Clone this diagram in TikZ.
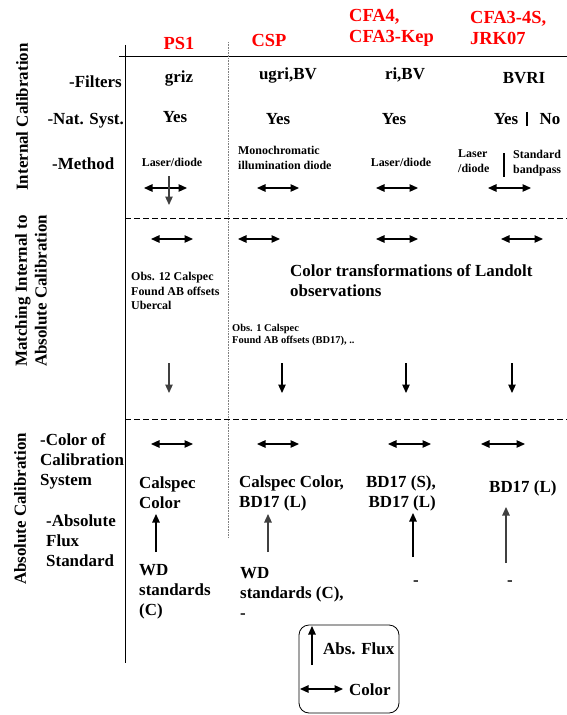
\documentclass[tikz,border=0pt]{standalone}
\usepackage{fontspec}
\setmainfont{Liberation Serif}
\usetikzlibrary{arrows.meta,calc}

\tikzset{
	hdr/.style={text=red,font=\fontsize{18.5}{21}\selectfont\bfseries,align=left,inner sep=0pt},
	big/.style={font=\fontsize{17}{20}\selectfont\bfseries,align=left,inner sep=0pt},
	small/.style={font=\fontsize{12}{14.5}\selectfont\bfseries,align=left,inner sep=0pt},
	tiny/.style={font=\fontsize{10.5}{12}\selectfont\bfseries,align=left,inner sep=0pt},
	dbl/.style={{Triangle[length=8.5bp,width=7.5bp]}-{Triangle[length=8.5bp,width=7.5bp]},line width=1.2bp},
	sgl/.style={-{Triangle[length=8.5bp,width=7.5bp]},line width=1.2bp},
	sep/.style={dash pattern=on 6bp off 3bp,line width=0.8bp},
}

\begin{document}
\begin{tikzpicture}[x=1bp,y=-1bp]
			          \useasboundingbox (0,0) rectangle (567,715);
			          %table frame
			          \coordinate (vtop) at (125,45);
			          \coordinate (vbot) at (125,663);
			          \coordinate (hl) at (119,57);
			          \coordinate (hr) at (567,57);
			          \coordinate (dtop) at (228,42);
			          \coordinate (dbot) at (228,538);
			          \coordinate (s1l) at (125,218);
			          \coordinate (s1r) at (567,218);
			          \coordinate (s2l) at (125,419);
			          \coordinate (s2r) at (567,419);
			          \draw[line width=1bp] (vtop) -- (vbot);
			          \draw[line width=1bp] (hl) -- (hr);
			          \draw[densely dotted,gray,line width=0.6bp] (dtop) -- (dbot);
			          \draw[sep] (s1l) -- (s1r);
			          \draw[sep] (s2l) -- (s2r);
			          
			          %column heads
			          \node[hdr] (ps) at (179,43) {PS1};
			          \node[hdr] (csp) at (269,40) {CSP};
			          \node[hdr,anchor=west] (cfa) at (349,28) {CFA4,\\CFA3-Kep};
			          \node[hdr,anchor=west] (jrk) at (470,28) {CFA3-4S,\\JRK07};
			          
			          %row heads
			          \node[big,rotate=90] (intcal) at (22,117) {Internal Calibration};
			          \node[big,rotate=90,align=center] (match) at (31,291) {Matching Internal to\\Absolute Calibration};
			          \node[big,rotate=90] (abscal) at (20,509) {Absolute Calibration};
			          \node[big,anchor=east] (filt) at (122,82) {-Filters};
			          \node[big,anchor=east] (nat) at (124,121) {-Nat. Syst.};
			          \node[big,anchor=west] (meth) at (52,164) {-Method};
			          \node[big,anchor=west] (colsys) at (40,461) {-Color of\\Calibration\\System};
			          \node[big,anchor=west] (flux) at (46,541) {-Absolute\\Flux\\Standard};
			          
			          %internal calibration
			          \node[big] (fps) at (179,78) {griz};
			          \node[big] (fcsp) at (288,75) {ugri,BV};
			          \node[big] (fcfa) at (405,75) {ri,BV};
			          \node[big] (fjrk) at (524,78) {BVRI};
			          \node[big] (yps) at (175,117) {Yes};
			          \node[big] (ycsp) at (278,119) {Yes};
			          \node[big] (ycfa) at (394,119) {Yes};
			          \node[big] (yjrk) at (506,119) {Yes};
			          \node[big] (njrk) at (550,119) {No};
			          \coordinate (ybt) at (527,112);
			          \coordinate (ybb) at (527,126);
			          \draw[line width=2bp] (ybt) -- (ybb);
			          \node[small] (mps) at (172,162) {Laser/diode};
			          \node[small,anchor=west] (mcsp) at (238,158) {Monochromatic\\illumination diode};
			          \node[small] (mcfa) at (401,162) {Laser/diode};
			          \node[small,anchor=west] (mjrk) at (458,161) {Laser\\/diode};
			          \node[small,anchor=west] (mstd) at (513,163) {Standard\\bandpass};
			          \coordinate (mbt) at (504,153);
			          \coordinate (mbb) at (504,177);
			          \draw[line width=2.5bp] (mbt) -- (mbb);
			          \coordinate (m1l) at (144,188); \coordinate (m1r) at (187,188);
			          \coordinate (m2l) at (257,188); \coordinate (m2r) at (299,188);
			          \coordinate (m3l) at (376,188); \coordinate (m3r) at (418,188);
			          \coordinate (m4l) at (488,188); \coordinate (m4r) at (531,188);
			          \coordinate (m1t) at (169,176); \coordinate (m1b) at (169,205);
			          \draw[dbl] (m1l) -- (m1r);
			          \draw[sgl,black!75] (m1t) -- (m1b);
			          \draw[dbl] (m2l) -- (m2r);
			          \draw[dbl] (m3l) -- (m3r);
			          \draw[dbl] (m4l) -- (m4r);
			          
			          %matching
			          \coordinate (t1l) at (151,239); \coordinate (t1r) at (193,239);
			          \coordinate (t2l) at (238,239); \coordinate (t2r) at (280,239);
			          \coordinate (t3l) at (376,239); \coordinate (t3r) at (418,239);
			          \coordinate (t4l) at (501,239); \coordinate (t4r) at (543,239);
			          \draw[dbl] (t1l) -- (t1r);
			          \draw[dbl] (t2l) -- (t2r);
			          \draw[dbl] (t3l) -- (t3r);
			          \draw[dbl] (t4l) -- (t4r);
			          \node[small,anchor=west] (obs12) at (131,291) {Obs. 12 Calspec\\Found AB offsets\\Ubercal};
			          \node[big,anchor=west] (landolt) at (290,281) {Color transformations of Landolt\\observations};
			          \node[tiny,anchor=west] (obs1) at (232,335) {Obs. 1 Calspec\\Found AB offsets (BD17), ..};
			          \coordinate (d1t) at (169,363); \coordinate (d1b) at (169,393);
			          \coordinate (d2t) at (282,363); \coordinate (d2b) at (282,393);
			          \coordinate (d3t) at (406,363); \coordinate (d3b) at (406,393);
			          \coordinate (d4t) at (512,363); \coordinate (d4b) at (512,393);
			          \draw[sgl,black!75] (d1t) -- (d1b);
			          \draw[sgl] (d2t) -- (d2b);
			          \draw[sgl] (d3t) -- (d3b);
			          \draw[sgl] (d4t) -- (d4b);
			          
			          %absolute calibration
			          \coordinate (c1l) at (151,444); \coordinate (c1r) at (193,444);
			          \coordinate (c2l) at (257,444); \coordinate (c2r) at (299,444);
			          \coordinate (c3l) at (388,444); \coordinate (c3r) at (431,444);
			          \coordinate (c4l) at (481,444); \coordinate (c4r) at (525,444);
			          \draw[dbl] (c1l) -- (c1r);
			          \draw[dbl] (c2l) -- (c2r);
			          \draw[dbl] (c3l) -- (c3r);
			          \draw[dbl] (c4l) -- (c4r);
			          \node[big,anchor=west] (cps) at (139,493) {Calspec\\Color};
			          \node[big,anchor=west] (ccsp) at (239,493) {Calspec Color,\\BD17 (L)};
			          \node[big,anchor=east,align=right] (ccfa) at (436,493) {BD17 (S),\\BD17 (L)};
			          \node[big,anchor=west] (cjrk) at (489,488) {BD17 (L)};
			          \coordinate (u1b) at (156,552); \coordinate (u1t) at (156,514);
			          \coordinate (u2b) at (268,552); \coordinate (u2t) at (268,514);
			          \coordinate (u3b) at (413,557); \coordinate (u3t) at (413,513);
			          \coordinate (u4b) at (506,563); \coordinate (u4t) at (506,507);
			          \draw[sgl] (u1b) -- (u1t);
			          \draw[sgl,black!75] (u2b) -- (u2t);
			          \draw[sgl] (u3b) -- (u3t);
			          \draw[sgl,black!75] (u4b) -- (u4t);
			          \node[big,anchor=west] (wps) at (139,592) {WD\\standards\\(C)};
			          \node[big,anchor=west] (wcsp) at (240,593) {WD\\standards (C),\\-};
			          \node[big] (wcfa) at (416,583) {-};
			          \node[big] (wjrk) at (510,583) {-};
			          
			          %legend
			          \node[draw,rounded corners=10bp,line width=0.8bp,minimum width=100bp,minimum height=88bp] (key) at (349,669) {};
			          \coordinate (kub) at (312,665); \coordinate (kut) at (312,626);
			          \coordinate (khl) at (300,689); \coordinate (khr) at (343,689);
			          \draw[sgl] (kub) -- (kut);
			          \draw[dbl] (khl) -- (khr);
			          \node[big,anchor=west] (kflux) at (323,649) {Abs. Flux};
			          \node[big,anchor=west] (kcol) at (349,690) {Color};
\end{tikzpicture}
\end{document}
